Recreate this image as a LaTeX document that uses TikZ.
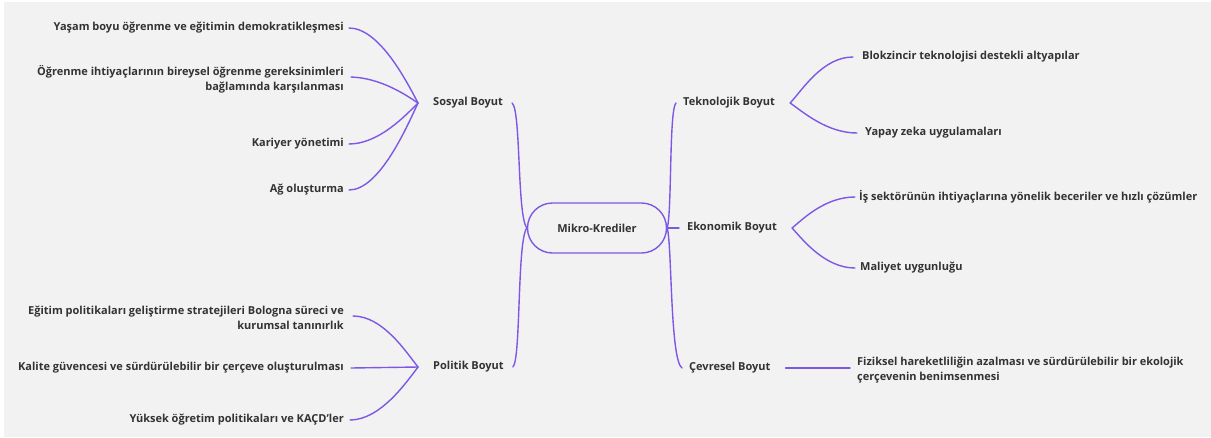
\documentclass[tikz,border=0pt]{standalone}
\usepackage{fontspec}
\setmainfont{Open Sans}
\usetikzlibrary{calc}
\definecolor{bg}{HTML}{F2F2F2}
\definecolor{ln}{RGB}{125,88,228}
\definecolor{tx}{HTML}{333333}
\begin{document}
\begin{tikzpicture}[x=1pt,y=-1pt,
  lbl/.style={inner sep=0pt, font=\fontsize{11}{15}\selectfont\bfseries, text=tx},
  lft/.style={lbl, anchor=east, align=right},
  rgt/.style={lbl, anchor=west, align=left},
  conn/.style={draw=ln, line width=1.4pt, line cap=round}]
\fill[white] (0,0) rectangle (1211,437);
\fill[bg] (4,2) rectangle (1211,437);
\useasboundingbox (0,0) rectangle (1211,437);

% root
\node[lbl, draw=ln, line width=1.4pt, rounded corners=25pt, minimum width=139pt, minimum height=50pt] (root) at (597,228) {Mikro-Krediler};

% dimensions
\node[lbl, anchor=west] (sos) at (433,103) {Sosyal Boyut};
\node[lbl, anchor=west] (pol) at (433,367) {Politik Boyut};
\node[lbl, anchor=west] (tek) at (683,103) {Teknolojik Boyut};
\node[lbl, anchor=west] (eko) at (687,228) {Ekonomik Boyut};
\node[lbl, anchor=west] (cev) at (689,368) {Çevresel Boyut};

% left leaves
\node[lft] (s1) at (344,28) {Yaşam boyu öğrenme ve eğitimin demokratikleşmesi};
\node[lft] (s2) at (344,79) {Öğrenme ihtiyaçlarının bireysel öğrenme gereksinimleri\\bağlamında karşılanması};
\node[lft] (s3) at (344,144) {Kariyer yönetimi};
\node[lft] (s4) at (344,190) {Ağ oluşturma};
\node[lft] (p1) at (344,318) {Eğitim politikaları geliştirme stratejileri Bologna süreci ve\\kurumsal tanınırlık};
\node[lft] (p2) at (344,368) {Kalite güvencesi ve sürdürülebilir bir çerçeve oluşturulması};
\node[lft] (p3) at (344,420) {Yüksek öğretim politikaları ve KAÇD'ler};

% right leaves
\node[rgt] (t1) at (862,57) {Blokzincir teknolojisi destekli altyapılar};
\node[rgt] (t2) at (865,133) {Yapay zeka uygulamaları};
\node[rgt] (e1) at (859,197) {İş sektörünün ihtiyaçlarına yönelik beceriler ve hızlı çözümler};
\node[rgt] (e2) at (860,268) {Maliyet uygunluğu};
\node[rgt] (c1) at (857,370) {Fiziksel hareketliliğin azalması ve sürdürülebilir bir ekolojik\\çerçevenin benimsenmesi};

% hubs (tips of the fans, just beside their parent labels)
\coordinate (hs) at ($(sos.west)+(-15,0)$);
\coordinate (hp) at ($(pol.west)+(-15,0)$);
\coordinate (ht) at ($(tek.east)+(15,0)$);
\coordinate (he) at ($(eko.east)+(15,0)$);

% main connectors
\draw[conn] ($(sos.east)+(9,0)$) .. controls (521,110) and (517,215) .. (root.west);
\draw[conn] ($(pol.east)+(9,0)$) .. controls (521,360) and (517,241) .. (root.west);
\draw[conn] ($(tek.west)+(-7,0)$) .. controls (669,110) and (672,212) .. (root.east);
\draw[conn] (root.east) -- ($(eko.west)+(-8,0)$);
\draw[conn] (root.east) .. controls (672,244) and (670,360) .. ($(cev.west)+(-7,0)$);

% fans left
\draw[conn] (hs) .. controls (406,80) and (379,28) .. ($(s1.east)+(5,0)$);
\draw[conn] (hs) .. controls (406,95) and (381,78) .. ($(s2.east)+(7,-2)$);
\draw[conn] (hs) .. controls (406,115) and (379,144) .. ($(s3.east)+(5,0)$);
\draw[conn] (hs) .. controls (406,129) and (379,190) .. ($(s4.east)+(5,0)$);
\draw[conn] (hp) .. controls (406,352) and (383,316) .. ($(p1.east)+(9,-2)$);
\draw[conn] (hp) -- ($(p2.east)+(7,0)$);
\draw[conn] (hp) .. controls (406,383) and (380,420) .. ($(p3.east)+(6,0)$);

% fans right
\draw[conn] (ht) .. controls (803,89) and (823,57) .. ($(t1.west)+(-9,0)$);
\draw[conn] (ht) .. controls (803,112) and (827,133) .. ($(t2.west)+(-8,0)$);
\draw[conn] (he) .. controls (803,219) and (825,197) .. ($(e1.west)+(-4,0)$);
\draw[conn] (he) .. controls (803,240) and (825,268) .. ($(e2.west)+(-5,0)$);
\draw[conn] ($(cev.east)+(15,0)$) -- ($(c1.west)+(-7,-2)$);
\end{tikzpicture}
\end{document}
